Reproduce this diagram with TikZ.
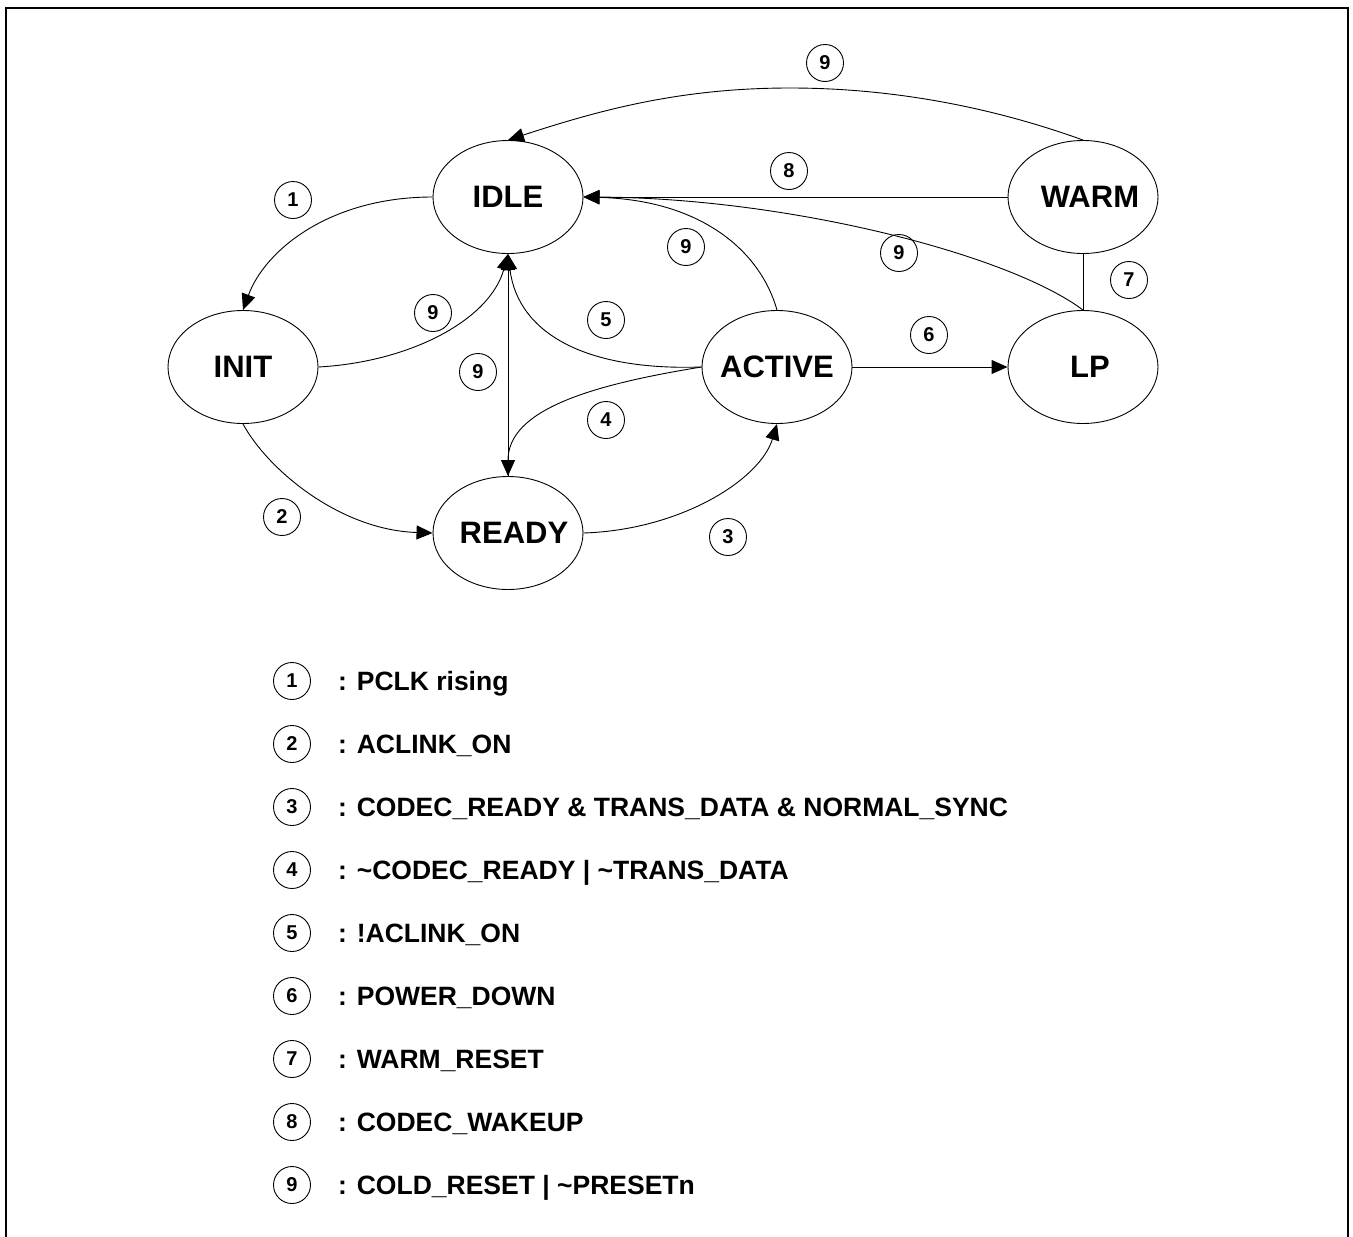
\documentclass[tikz,border=0pt]{standalone}
\usepackage{fontspec}
\setmainfont{Liberation Sans}
\usetikzlibrary{shapes.geometric,arrows.meta}
\tikzset{
 state/.style={draw, ellipse, line width=0.9pt, minimum width=150pt, minimum height=113pt, inner sep=0pt, font=\fontsize{31}{36}\selectfont\bfseries},
 tag/.style={draw, circle, line width=0.9pt, minimum size=37pt, inner sep=0pt, font=\fontsize{20}{23}\selectfont\bfseries},
 conn/.style={line width=0.9pt},
 arr/.style={conn, -{Triangle[length=16pt,width=14pt]}},
 legtext/.style={anchor=base west, inner sep=0pt, font=\fontsize{26.5}{31}\selectfont\bfseries},
 frame/.style={line width=2.5pt},
}
\begin{document}
\begin{tikzpicture}[x=1pt,y=-1pt]
\useasboundingbox (0,0) rectangle (1353,1237);
\draw[frame] (6,1237) -- (6,8) -- (1348,8) -- (1348,1237);

% states
\node[state] (idle) at (508,197) {\makebox[0pt]{IDLE}};
\node[state] (init) at (243,367) {\makebox[0pt]{INIT}};
\node[state] (ready) at (508,533) {\makebox[0pt]{\hspace*{12pt}READY}};
\node[state] (active) at (777,367) {\makebox[0pt]{ACTIVE}};
\node[state] (warm) at (1083,197) {\makebox[0pt]{\hspace*{14pt}WARM}};
\node[state] (lp) at (1083,367) {\makebox[0pt]{\hspace*{14pt}LP}};

% connectors
\coordinate (top9) at (790,88);
\draw[arr] (idle.west) .. controls (330,197) and (265,250) .. (init.north);
\draw[arr] (init.south) .. controls (268,470) and (340,530) .. (ready.west);
\draw[arr] (ready.east) .. controls (680,530) and (760,480) .. (active.south);
\draw[arr] (active.west) .. controls (590,385) and (508,410) .. (ready.north);
\draw[arr] (active.west) .. controls (585,371) and (518,333) .. (idle.south);
\draw[arr] (init.east) .. controls (410,362) and (490,320) .. (idle.south);
\draw[arr] (ready.north) -- (idle.south);
\draw[arr] (active.north) .. controls (760,250) and (700,200) .. (idle.east);
\draw[arr] (lp.north) .. controls (1010,255) and (790,198) .. (idle.east);
\draw[arr] (warm.west) -- (idle.east);
\draw[arr] (warm.north) .. controls (1000,110) and (900,88) .. (top9) .. controls (680,88) and (600,110) .. (idle.north);
\draw[arr] (active.east) -- (lp.west);
\draw[conn] (warm.south) -- (lp.north);

% transition tags
\node[tag] (c9a) at (825,63) {9};
\node[tag] (c8) at (789,171) {8};
\node[tag] (c1) at (293,200) {1};
\node[tag] (c9b) at (686,247) {9};
\node[tag] (c9c) at (899,253) {9};
\node[tag] (c7) at (1129,280) {7};
\node[tag] (c9d) at (433,313) {9};
\node[tag] (c5) at (606,320) {5};
\node[tag] (c6) at (929,335) {6};
\node[tag] (c9e) at (478,372) {9};
\node[tag] (c4) at (606,420) {4};
\node[tag] (c2) at (282,517) {2};
\node[tag] (c3) at (728,537) {3};

% legend
\node[tag] (l1) at (292,681) {1};
\node[legtext] (d1) at (338,690) {: PCLK rising};
\node[tag] (l2) at (292,744) {2};
\node[legtext] (d2) at (338,753) {: ACLINK\_ON};
\node[tag] (l3) at (292,807) {3};
\node[legtext] (d3) at (338,816) {: CODEC\_READY \& TRANS\_DATA \& NORMAL\_SYNC};
\node[tag] (l4) at (292,870) {4};
\node[legtext] (d4) at (338,879) {: \textasciitilde CODEC\_READY | \textasciitilde TRANS\_DATA};
\node[tag] (l5) at (292,933) {5};
\node[legtext] (d5) at (338,942) {: !ACLINK\_ON};
\node[tag] (l6) at (292,996) {6};
\node[legtext] (d6) at (338,1005) {: POWER\_DOWN};
\node[tag] (l7) at (292,1059) {7};
\node[legtext] (d7) at (338,1068) {: WARM\_RESET};
\node[tag] (l8) at (292,1122) {8};
\node[legtext] (d8) at (338,1131) {: CODEC\_WAKEUP};
\node[tag] (l9) at (292,1185) {9};
\node[legtext] (d9) at (338,1194) {: COLD\_RESET | \textasciitilde PRESETn};
\end{tikzpicture}
\end{document}
